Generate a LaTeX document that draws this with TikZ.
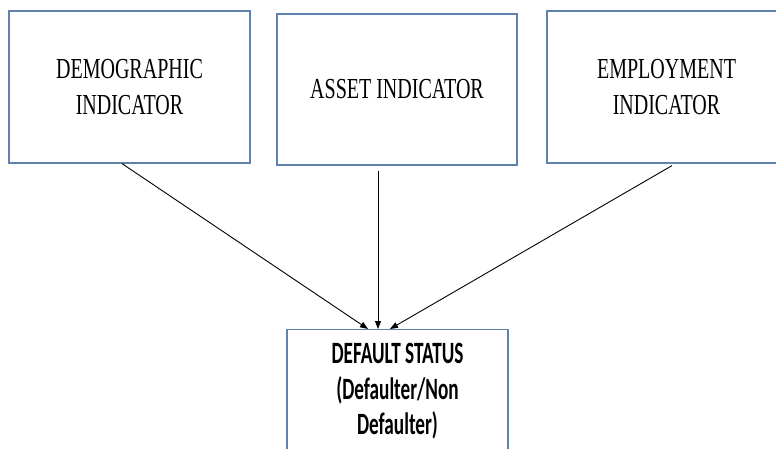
\documentclass[tikz,border=0pt]{standalone}
\usepackage{fontspec}
\usetikzlibrary{arrows.meta}
\newfontfamily\boxserif[FakeStretch=0.69]{Liberation Serif}
\newfontfamily\statussans[FakeStretch=0.62]{Carlito}
\definecolor{boxline}{RGB}{98,130,174}
\tikzset{
  indicator/.style={draw=boxline, line width=1.2pt, fill=white, inner sep=0pt,
    align=center, font=\boxserif\fontsize{29}{36}\selectfont},
  link/.style={draw=black, line width=0.9pt, -{Triangle[length=8pt,width=6pt]}}
}
\begin{document}
\begin{tikzpicture}[x=1pt,y=-1pt]
  \clip (0,0) rectangle (776,448);
  \fill[white] (0,0) rectangle (776,448);

  % three indicator boxes
  \node[indicator, minimum width=241pt, minimum height=152pt] (demo) at (129.5,87)
    {DEMOGRAPHIC\\INDICATOR};
  \node[indicator, minimum width=240pt, minimum height=151pt] (asset) at (397,89.5)
    {ASSET INDICATOR};
  \node[indicator, minimum width=239pt, minimum height=152pt] (employ) at (666.5,87)
    {EMPLOYMENT\\INDICATOR};

  % outcome box, running past the lower edge
  \node[draw=boxline, line width=1.2pt, fill=white, anchor=north, inner xsep=0pt,
        inner ysep=14pt, minimum width=221pt, align=center,
        font=\statussans\bfseries\fontsize{31}{35.5}\selectfont] (status) at (397.5,329)
    {DEFAULT STATUS\\(Defaulter/Non\\Defaulter)};

  % connectors
  \draw[link] ([xshift=-7.5pt]demo.south) -- ([xshift=-29.5pt]status.north);
  \draw[link] ([xshift=-19pt,yshift=-5pt]asset.south) -- ([xshift=-19.5pt]status.north);
  \draw[link] ([xshift=5.5pt,yshift=-2pt]employ.south) -- ([xshift=-7.5pt]status.north);
\end{tikzpicture}
\end{document}
